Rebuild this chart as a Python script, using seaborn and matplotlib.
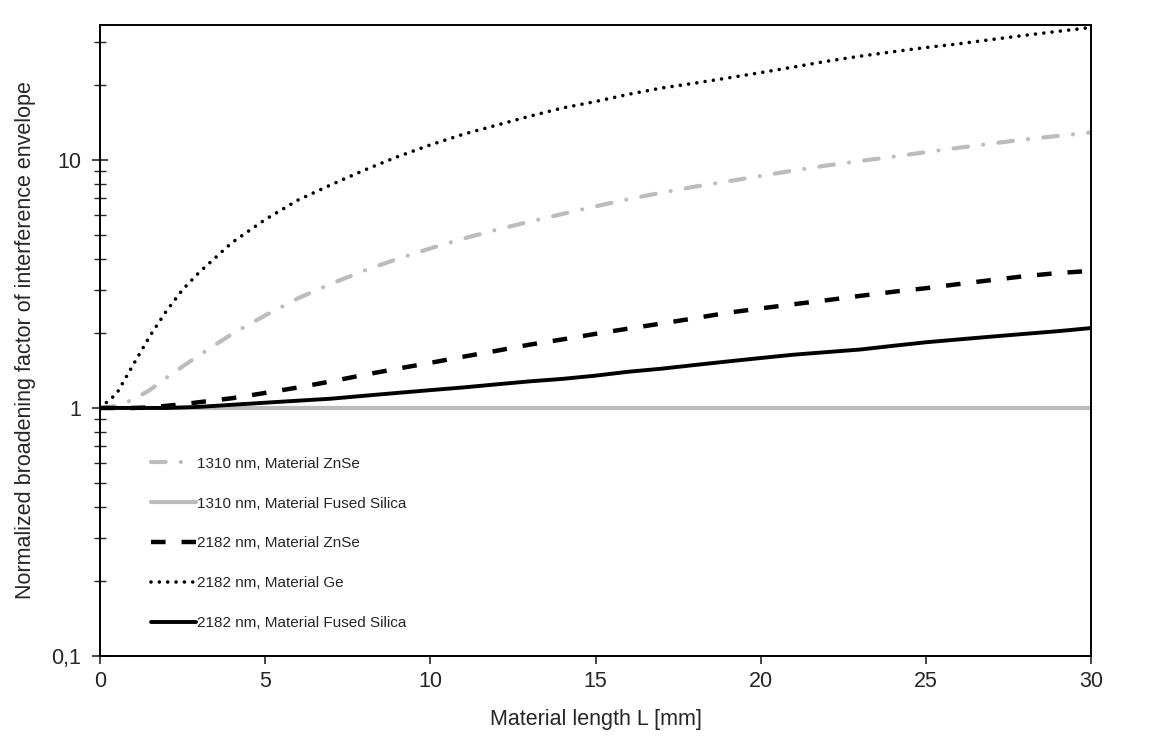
import numpy as np
import pandas as pd
import matplotlib
matplotlib.use("Agg")
import matplotlib.pyplot as plt
import matplotlib.ticker as mticker
import seaborn as sns

# data
x_mm = [0, 0.5, 1, 1.5, 2, 2.5, 3, 4, 5, 6, 7, 8, 9, 10, 11, 12, 13, 14, 15,
        16, 17, 18, 19, 20, 21, 22, 23, 24, 25, 26, 27, 28, 29, 30]
znse_1310 = [1.0, 1.02, 1.08, 1.18, 1.32, 1.47, 1.63, 1.99, 2.36, 2.77, 3.17, 3.58,
             3.99, 4.40, 4.82, 5.23, 5.64, 6.06, 6.50, 6.95, 7.38, 7.80, 8.20, 8.62,
             9.07, 9.50, 9.90, 10.3, 10.75, 11.2, 11.65, 12.1, 12.5, 12.9]
fs_1310_x = [0, 30]
fs_1310 = [1.0, 1.0]
znse_2182 = [1.0, 1.0, 1.0, 1.005, 1.02, 1.035, 1.055, 1.095, 1.15, 1.21, 1.28, 1.36,
             1.44, 1.52, 1.61, 1.70, 1.80, 1.89, 1.99, 2.09, 2.19, 2.30, 2.42, 2.52,
             2.62, 2.72, 2.83, 2.94, 3.04, 3.16, 3.28, 3.40, 3.50, 3.57]
ge_2182 = [1.0, 1.14, 1.49, 1.94, 2.45, 3.0, 3.52, 4.65, 5.75, 6.9, 7.95, 9.1,
           10.3, 11.5, 12.7, 13.8, 15.0, 16.2, 17.2, 18.4, 19.5, 20.4, 21.4, 22.5,
           23.7, 25.0, 26.2, 27.3, 28.4, 29.4, 30.6, 31.8, 33.0, 34.2]
fs_2182 = [1.0, 1.0, 1.0, 1.0, 1.0, 1.005, 1.01, 1.03, 1.05, 1.07, 1.09, 1.12,
           1.15, 1.18, 1.21, 1.245, 1.28, 1.31, 1.35, 1.40, 1.44, 1.49, 1.54, 1.59,
           1.64, 1.68, 1.72, 1.78, 1.84, 1.89, 1.94, 1.99, 2.04, 2.10]

labels = ["1310 nm, Material ZnSe", "1310 nm, Material Fused Silica",
          "2182 nm, Material ZnSe", "2182 nm, Material Ge",
          "2182 nm, Material Fused Silica"]
y_ticks = [0.1, 1, 10]
y_ticklabels = ["0,1", "1", "10"]
x_ticks = [0, 5, 10, 15, 20, 25, 30]

sns.set_style("white")
plt.rcParams['font.family'] = ['Liberation Sans', 'DejaVu Sans']
plt.rcParams['lines.scale_dashes'] = False

grey = "#bcbcbc"

fig = plt.figure(figsize=(11.51, 7.49), dpi=100)
ax = fig.add_axes([0.0869, 0.1242, 0.861, 0.8424])
ax.set_yscale("log")

series = [
    (x_mm, znse_1310, grey, 3.0, (0, (10.5, 11, 0.01, 11)), "round"),
    (fs_1310_x, fs_1310, grey, 3.0, "-", "butt"),
    (x_mm, znse_2182, "black", 3.2, (0, (10.5, 11.5)), "butt"),
    (x_mm, ge_2182, "black", 2.6, (0, (0.01, 6)), "round"),
    (x_mm, fs_2182, "black", 2.8, "-", "butt"),
]
for (xs, ys, col, lw, ls, cap), lab in zip(series, labels):
    df = pd.DataFrame({"x": xs, "y": ys})
    sns.lineplot(data=df, x="x", y="y", ax=ax, color=col, linewidth=lw,
                 linestyle=ls, dash_capstyle=cap, label=lab)

ax.set_xlim(0, 30)
ax.set_ylim(0.1, 35)
ax.set_xticks(x_ticks)
ax.set_yticks(y_ticks)
ax.set_yticklabels(y_ticklabels)
ax.yaxis.set_minor_locator(mticker.LogLocator(base=10, subs=np.arange(2, 10)))
ax.yaxis.set_minor_formatter(mticker.NullFormatter())
ax.tick_params(axis="y", which="major", direction="inout", length=11, width=1.2,
               labelsize=15.5, left=True, pad=8)
ax.tick_params(axis="y", which="minor", direction="inout", length=9, width=1.0, left=True)
ax.tick_params(axis="x", which="major", direction="out", length=6, width=1.2,
               labelsize=15.5, bottom=True, pad=5)
for s in ax.spines.values():
    s.set_color("black")
    s.set_linewidth(1.4)

ax.set_xlabel("Material length L [mm]", fontsize=15.5, labelpad=12)
ax.set_ylabel("Normalized broadening factor of interference envelope", fontsize=15.5,
              labelpad=11)

ax.legend(loc="lower left", bbox_to_anchor=(0.051, 0.041), frameon=False, fontsize=11,
          handlelength=2.95, handletextpad=0.12, labelspacing=1.69, borderpad=0,
          borderaxespad=0)

fig.savefig("out.png", dpi=100)
